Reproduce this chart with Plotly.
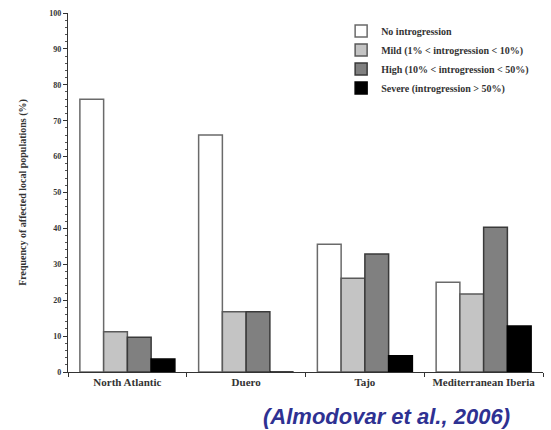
import plotly.graph_objects as go

categories = ["North Atlantic", "Duero", "Tajo", "Mediterranean Iberia"]
series_names = [
    "No introgression",
    "Mild (1% < introgression < 10%)",
    "High (10% < introgression < 50%)",
    "Severe (introgression > 50%)",
]
no_introgression = [76, 66, 35.6, 25]
mild = [11.2, 16.8, 26.1, 21.7]
high = [9.7, 16.8, 32.9, 40.3]
severe = [3.6, 0, 4.5, 12.8]
y_ticks = [0, 10, 20, 30, 40, 50, 60, 70, 80, 90, 100]

values = [no_introgression, mild, high, severe]
colors = ["#ffffff", "#c4c4c4", "#808080", "#000000"]
line_colors = ["#6a6a6a", "#5a5a5a", "#3a3a3a", "#000000"]

fig = go.Figure()
for name, vals, c, lc in zip(series_names, values, colors, line_colors):
    fig.add_trace(go.Bar(
        x=categories, y=vals, name=name,
        marker=dict(color=c, line=dict(color=lc, width=1.5)),
    ))

serif = "Liberation Serif"
fig.update_layout(
    width=551, height=430,
    margin=dict(l=68, r=8, t=13, b=58),
    paper_bgcolor="white", plot_bgcolor="white",
    barmode="group", bargap=0.2, bargroupgap=0,
    showlegend=True,
    legend=dict(
        x=0.575, y=0.99, xanchor="left", yanchor="top",
        font=dict(family=serif, size=10, color="#333", weight="bold"),
        bgcolor="rgba(255,255,255,0)", tracegroupgap=0,
        itemwidth=30,
    ),
    font=dict(family=serif, color="#222"),
)
fig.update_xaxes(
    showline=True, linecolor="#333", linewidth=1.2,
    ticks="outside", tickson="boundaries", ticklen=4, tickcolor="#333",
    tickfont=dict(family=serif, size=11, color="#333", weight="bold"),
    tickangle=0, automargin=False,
    showgrid=False,
)
fig.update_yaxes(
    range=[0, 100], tickvals=y_ticks,
    showline=True, linecolor="#333", linewidth=1.2,
    ticks="outside", ticklen=4, tickcolor="#333",
    minor=dict(dtick=2, ticks="outside", ticklen=2, tickcolor="#555"),
    tickfont=dict(family=serif, size=8, color="#333", weight="bold"),
    showgrid=False, zeroline=False, automargin=False,
    title=dict(text="Frequency of affected local populations (%)",
               font=dict(family=serif, size=10, color="#333", weight="bold"), standoff=20),
)
fig.add_annotation(
    x=0.935, y=-0.125, xref="paper", yref="paper", xanchor="right", yanchor="middle",
    text="<b><i>(Almodovar et al., 2006)</i></b>", showarrow=False,
    font=dict(family="Liberation Sans", size=22, color="#2e3192"),
)
fig.write_html("out.html")
